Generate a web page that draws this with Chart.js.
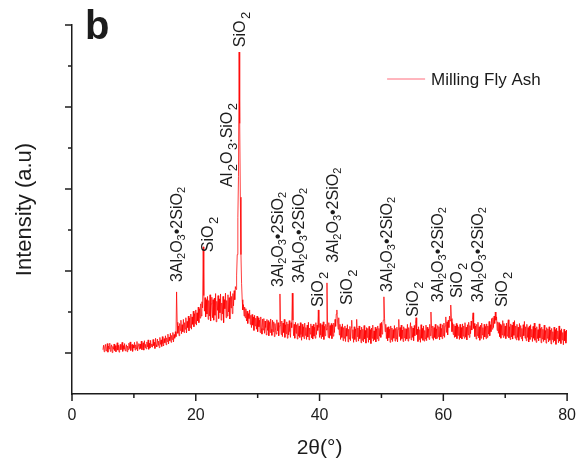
<!DOCTYPE html>
<html>
<head>
<meta charset="utf-8">
<title>DRX ceniza volante</title>
<script src="https://cdn.jsdelivr.net/npm/chart.js@4.4.1/dist/chart.umd.min.js"></script>
<style>
    html, body { margin: 0; padding: 0; background: #fff; }
    #contenedor { width: 588px; height: 461px; }
</style>
</head>
<body>
<div id="contenedor"><canvas id="grafica_drx"></canvas></div>
<script>
// Difractograma de rayos X de la ceniza volante molida (barrido 5° - 80°, paso 0.1°).

var nombreSerie = 'Milling Fly Ash';
var letraPanel = 'b';
var inicioBarrido = 5;
var pasoBarrido = 0.1;

// Intensidad (u.a.) de cada paso del barrido, una fila por grado (d.0 ... d.9).
var intensidades = [
    1.08, 1.19, 1.03, 1.15, 1.21, 1.05, 1.12, 1.23, 1.02, 1.17,   // 5
    1.10, 1.24, 1.04, 1.14, 1.20, 1.01, 1.16, 1.09, 1.22, 1.06,
    1.18, 1.03, 1.13, 1.25, 1.07, 1.19, 1.02, 1.15, 1.21, 1.08,
    1.14, 1.26, 1.04, 1.18, 1.09, 1.23, 1.05, 1.12, 1.20, 1.03,
    1.17, 1.08, 1.24, 1.11, 1.27, 1.06, 1.16, 1.21, 1.04, 1.19,
    1.12, 1.26, 1.07, 1.20, 1.10, 1.28, 1.05, 1.18, 1.23, 1.09,   // 10
    1.22, 1.11, 1.29, 1.08, 1.19, 1.25, 1.07, 1.30, 1.13, 1.21,
    1.10, 1.27, 1.15, 1.32, 1.09, 1.24, 1.12, 1.31, 1.16, 1.22,
    1.14, 1.33, 1.18, 1.26, 1.11, 1.36, 1.20, 1.15, 1.34, 1.19,
    1.29, 1.13, 1.38, 1.21, 1.32, 1.16, 1.40, 1.23, 1.17, 1.35,
    1.25, 1.42, 1.20, 1.37, 1.28, 1.46, 1.22, 1.39, 1.30, 1.48,   // 15
    1.26, 1.43, 1.33, 1.50, 1.27, 1.45, 1.36, 1.52, 1.40, 2.49,
    1.75, 1.48, 1.66, 1.42, 1.72, 1.55, 1.80, 1.47, 1.69, 1.52,
    1.82, 1.50, 1.74, 1.58, 1.86, 1.49, 1.77, 1.62, 1.90, 1.54,
    1.85, 1.62, 1.95, 1.58, 1.88, 1.70, 2.02, 1.64, 1.96, 1.72,
    2.05, 1.68, 1.98, 1.78, 2.12, 1.74, 2.08, 1.85, 2.20, 1.90,   // 20
    2.25, 2.10, 3.59, 2.40, 2.02, 2.35, 1.88, 2.30, 1.95, 2.38,
    1.82, 2.28, 1.90, 2.42, 1.78, 2.20, 2.36, 1.86, 2.30, 1.80,
    2.34, 1.92, 2.45, 1.76, 2.26, 2.04, 2.40, 1.84, 2.32, 1.98,
    2.44, 1.80, 2.22, 1.95, 2.38, 1.74, 2.30, 2.08, 2.46, 1.86,
    2.28, 1.90, 2.42, 2.00, 2.35, 1.83, 2.50, 2.10, 2.38, 1.96,   // 25
    2.45, 2.15, 2.52, 2.30, 2.62, 2.55, 2.90, 3.40, 4.30, 5.30,
    8.34, 6.60, 4.80, 3.40, 2.70, 2.30, 2.05, 2.18, 1.90, 2.12,
    1.86, 2.08, 1.78, 2.02, 1.72, 1.96, 1.84, 2.05, 1.70, 1.92,
    1.62, 1.94, 1.68, 1.88, 1.55, 1.92, 1.66, 1.85, 1.58, 1.90,
    1.52, 1.86, 1.64, 1.80, 1.50, 1.88, 1.60, 1.46, 1.83, 1.56,   // 30
    1.84, 1.48, 1.78, 1.62, 1.44, 1.82, 1.55, 1.79, 1.42, 1.75,
    1.50, 1.83, 1.58, 1.43, 1.80, 1.52, 1.76, 1.40, 1.72, 1.55,
    1.46, 1.81, 1.54, 1.74, 1.42, 1.66, 2.44, 1.70, 1.45, 1.78,
    1.40, 1.73, 1.50, 1.82, 1.38, 1.69, 1.47, 1.76, 1.36, 1.71,
    1.44, 1.79, 1.52, 1.38, 1.74, 1.62, 2.46, 1.80, 1.42, 1.70,   // 35
    1.36, 1.75, 1.48, 1.69, 1.34, 1.72, 1.41, 1.66, 1.38, 1.74,
    1.45, 1.31, 1.70, 1.40, 1.64, 1.35, 1.73, 1.43, 1.62, 1.33,
    1.68, 1.39, 1.75, 1.32, 1.61, 1.46, 1.71, 1.37, 1.66, 1.34,
    1.70, 1.41, 1.63, 1.36, 1.74, 1.45, 1.68, 1.55, 2.05, 1.62,
    1.38, 1.72, 1.44, 1.35, 1.69, 1.40, 1.76, 1.33, 1.65, 1.42,   // 40
    1.70, 1.56, 2.71, 1.62, 1.38, 1.74, 1.36, 1.67, 1.43, 1.72,
    1.35, 1.68, 1.41, 1.73, 1.50, 1.82, 1.65, 1.95, 2.05, 1.78,
    1.58, 1.86, 1.44, 1.70, 1.33, 1.64, 1.38, 1.71, 1.30, 1.62,
    1.36, 1.66, 1.28, 1.60, 1.41, 1.69, 1.27, 1.58, 1.34, 1.65,
    1.30, 1.62, 1.80, 1.36, 1.57, 1.26, 1.64, 1.33, 1.59, 1.28,   // 45
    1.82, 1.40, 1.61, 1.29, 1.66, 1.35, 1.56, 1.25, 1.63, 1.31,
    1.58, 1.27, 1.67, 1.34, 1.55, 1.24, 1.62, 1.38, 1.60, 1.26,
    1.65, 1.32, 1.57, 1.23, 1.61, 1.36, 1.68, 1.29, 1.54, 1.33,
    1.63, 1.27, 1.59, 1.35, 1.66, 1.30, 1.60, 1.41, 1.72, 1.38,
    1.75, 1.46, 1.66, 1.80, 2.37, 1.85, 1.52, 1.70, 1.35, 1.62,   // 50
    1.30, 1.64, 1.37, 1.58, 1.26, 1.66, 1.33, 1.61, 1.28, 1.57,
    1.36, 1.67, 1.29, 1.60, 1.34, 1.63, 1.27, 1.58, 1.82, 1.40,
    1.62, 1.31, 1.68, 1.35, 1.56, 1.28, 1.64, 1.37, 1.60, 1.30,
    1.59, 1.34, 1.70, 1.29, 1.62, 1.36, 1.57, 1.74, 1.32, 1.65,
    1.38, 1.61, 1.30, 1.67, 1.42, 1.72, 1.86, 1.45, 1.58, 1.28,   // 55
    1.64, 1.33, 1.57, 1.26, 1.69, 1.36, 1.60, 1.31, 1.66, 1.29,
    1.55, 1.34, 1.68, 1.30, 1.63, 1.38, 1.59, 1.33, 1.70, 1.42,
    2.00, 1.60, 1.36, 1.66, 1.31, 1.62, 1.38, 1.70, 1.34, 1.59,
    1.36, 1.67, 1.40, 1.64, 1.32, 1.71, 1.39, 1.60, 1.35, 1.69,
    1.42, 1.73, 1.38, 1.66, 1.88, 1.50, 1.76, 1.44, 1.80, 1.62,   // 60
    1.90, 1.78, 2.17, 1.84, 1.52, 1.74, 1.45, 1.70, 1.38, 1.66,
    1.40, 1.72, 1.35, 1.68, 1.43, 1.64, 1.33, 1.70, 1.37, 1.62,
    1.34, 1.71, 1.41, 1.66, 1.36, 1.74, 1.39, 1.63, 1.32, 1.69,
    1.44, 1.75, 1.38, 1.67, 1.47, 1.78, 1.56, 1.82, 1.98, 1.60,
    1.72, 1.40, 1.66, 1.34, 1.70, 1.42, 1.75, 1.37, 1.64, 1.31,   // 65
    1.68, 1.36, 1.73, 1.44, 1.62, 1.33, 1.70, 1.39, 1.65, 1.35,
    1.71, 1.38, 1.66, 1.46, 1.77, 1.42, 1.69, 1.52, 1.84, 1.58,
    1.86, 1.62, 1.90, 1.72, 2.00, 1.80, 1.88, 1.55, 1.76, 1.48,
    1.74, 1.40, 1.70, 1.36, 1.67, 1.44, 1.79, 1.38, 1.72, 1.42,
    1.66, 1.35, 1.73, 1.41, 1.69, 1.81, 1.37, 1.64, 1.33, 1.71,   // 70
    1.39, 1.68, 1.34, 1.75, 1.43, 1.79, 1.36, 1.66, 1.32, 1.70,
    1.38, 1.63, 1.31, 1.72, 1.40, 1.67, 1.35, 1.60, 1.29, 1.69,
    1.42, 1.77, 1.36, 1.64, 1.30, 1.70, 1.38, 1.62, 1.27, 1.66,
    1.33, 1.69, 1.39, 1.58, 1.28, 1.65, 1.36, 1.73, 1.31, 1.61,
    1.26, 1.64, 1.35, 1.57, 1.30, 1.71, 1.37, 1.60, 1.25, 1.63,   // 75
    1.34, 1.58, 1.28, 1.68, 1.32, 1.55, 1.24, 1.62, 1.36, 1.59,
    1.27, 1.64, 1.31, 1.56, 1.22, 1.60, 1.33, 1.52, 1.26, 1.63,
    1.30, 1.57, 1.21, 1.61, 1.35, 1.54, 1.25, 1.66, 1.29, 1.55,
    1.23, 1.59, 1.32, 1.50, 1.20, 1.58, 1.30, 1.53, 1.24, 1.56,
    1.28                                                          // 80
];

// Identificación de fases: texto ("_n" = subíndice), posición 2θ, altura base y estilo.
var fasesTexto = [
    '3Al_2O_3•2SiO_2', 'SiO_2', 'Al_2O_3.SiO_2', 'SiO_2', '3Al_2O_3•2SiO_2',
    '3Al_2O_3•2SiO_2', 'SiO_2', '3Al_2O_3•2SiO_2', 'SiO_2', '3Al_2O_3•2SiO_2',
    'SiO_2', '3Al_2O_3•2SiO_2', 'SiO_2', '3Al_2O_3•2SiO_2', 'SiO_2'
];
var fasesAngulo = [16.9, 21.8, 25.0, 27.0, 33.2, 36.5, 39.6, 42.1, 44.3, 50.8, 55.0, 59.0, 62.1, 65.5, 69.4];
var fasesAltura = [2.73, 3.46, 5.05, 8.46, 2.61, 2.71, 2.12, 3.20, 2.17, 2.49, 1.88, 2.24, 2.34, 2.24, 2.12];
var fasesEstilo = ['m', 'q', 'q', 'q', 'm', 'm', 'q', 'm', 'q', 'm', 'q', 'm', 'q', 'm', 'q'];

var familia = '"Liberation Sans", Arial, Helvetica, sans-serif';
var colorEjes = '#1c1c1c';
var colorSerie = 'rgba(255, 0, 0, 0.95)';

Chart.defaults.font.family = familia;
Chart.defaults.color = colorEjes;

// Construye los puntos (2θ, intensidad) de la serie.
function construirPuntos() {
    var puntos = [];
    for (var i = 0; i < intensidades.length; i++) {
        var angulo = Math.round((inicioBarrido + i * pasoBarrido) * 10) / 10;
        puntos.push({ x: angulo, y: intensidades[i] });
    }
    return puntos;
}

// Escribe una etiqueta vertical con subíndices.
function escribirVertical(ctx, texto, px, py, estilo) {
    var tam = 16;
    var tamSub = estilo === 'q' ? 13 : 11;
    var bajada = estilo === 'q' ? 5 : 3;
    var hueco = estilo === 'q' ? 1.5 : 0;
    var partes = texto.split(/(_\d)/);
    var cx = 0;

    ctx.save();
    ctx.translate(px, py);
    ctx.rotate(-Math.PI / 2);
    ctx.textAlign = 'left';
    ctx.textBaseline = 'alphabetic';
    ctx.fillStyle = colorEjes;
    for (var i = 0; i < partes.length; i++) {
        var p = partes[i];
        if (!p) continue;
        if (p.charAt(0) === '_') {
            ctx.font = tamSub + 'px ' + familia;
            ctx.fillText(p.charAt(1), cx + hueco, tam * 0.36 + bajada);
            cx += ctx.measureText(p.charAt(1)).width + hueco;
        } else {
            ctx.font = tam + 'px ' + familia;
            ctx.fillText(p, cx, tam * 0.36);
            cx += ctx.measureText(p).width;
        }
    }
    ctx.restore();
}

// Marcas de los ejes, leyenda, letra del panel y fases identificadas.
var decoracion = {
    id: 'decoracion',
    afterDraw: function (chart) {
        var ctx = chart.ctx;
        var ejeX = chart.scales.x;
        var ejeY = chart.scales.y;
        var area = chart.chartArea;

        ctx.save();
        ctx.strokeStyle = colorEjes;
        ctx.lineWidth = 1.5;
        ejeX.ticks.forEach(function (t) {
            var px = ejeX.getPixelForValue(t.value);
            var largo = t.value % 20 === 0 ? 7 : 4;
            ctx.beginPath();
            ctx.moveTo(px, area.bottom);
            ctx.lineTo(px, area.bottom + largo);
            ctx.stroke();
        });
        ejeY.ticks.forEach(function (t) {
            if (t.value === 0) return;
            var py = ejeY.getPixelForValue(t.value);
            var largo = t.value % 2 === 1 ? 7 : 4;
            ctx.beginPath();
            ctx.moveTo(area.left, py);
            ctx.lineTo(area.left - largo, py);
            ctx.stroke();
        });

        // Leyenda
        var ds = chart.data.datasets[0];
        var lx = area.right - 180;
        var ly = area.top + 54;
        ctx.strokeStyle = 'rgba(255, 60, 80, 0.75)';
        ctx.lineWidth = 1;
        ctx.beginPath();
        ctx.moveTo(lx, ly);
        ctx.lineTo(lx + 38, ly);
        ctx.stroke();
        ctx.fillStyle = colorEjes;
        ctx.font = '17px ' + familia;
        ctx.textBaseline = 'middle';
        ctx.fillText(ds.label, lx + 44, ly + 1);

        // Letra del panel
        ctx.font = 'bold 40px ' + familia;
        ctx.textBaseline = 'alphabetic';
        ctx.fillText(letraPanel, area.left + 13, area.top + 14);
        ctx.restore();

        for (var i = 0; i < fasesTexto.length; i++) {
            escribirVertical(ctx,
                fasesTexto[i],
                ejeX.getPixelForValue(fasesAngulo[i]),
                ejeY.getPixelForValue(fasesAltura[i]),
                fasesEstilo[i]);
        }
    }
};

function crearGrafica() {
    var context = document.getElementById('grafica_drx').getContext('2d');
    return new Chart(context, {
        type: 'line',
        data: {
            datasets: [{
                label: nombreSerie,
                data: construirPuntos(),
                borderColor: colorSerie,
                borderWidth: 0.8,
                pointRadius: 0,
                tension: 0,
                fill: false
            }]
        },
        options: {
            responsive: true,
            maintainAspectRatio: false,
            animation: false,
            layout: { padding: { top: 25, right: 20, left: 0, bottom: 0 } },
            plugins: {
                legend: { display: false },
                tooltip: { enabled: false }
            },
            scales: {
                x: {
                    type: 'linear',
                    min: 0,
                    max: 80,
                    grid: { display: false, drawTicks: false },
                    border: { display: true, color: colorEjes, width: 1.5 },
                    ticks: {
                        stepSize: 10,
                        autoSkip: false,
                        maxRotation: 0,
                        padding: 12,
                        font: { size: 16 },
                        color: colorEjes,
                        callback: function (v) { return v % 20 === 0 ? v : ''; }
                    },
                    title: {
                        display: true,
                        text: '2θ(°)',
                        font: { size: 21 },
                        color: colorEjes,
                        padding: { top: 0, bottom: 0 }
                    },
                    afterFit: function (scale) { scale.height = 67; }
                },
                y: {
                    type: 'linear',
                    min: 0,
                    max: 9,
                    grid: { display: false, drawTicks: false },
                    border: { display: true, color: colorEjes, width: 1.5 },
                    ticks: { stepSize: 1, display: false },
                    title: {
                        display: true,
                        text: 'Intensity (a.u)',
                        font: { size: 22 },
                        color: colorEjes,
                        padding: { top: 12, bottom: 0 }
                    },
                    afterFit: function (scale) { scale.width = 72; }
                }
            }
        },
        plugins: [decoracion]
    });
}

crearGrafica();
</script>
</body>
</html>
